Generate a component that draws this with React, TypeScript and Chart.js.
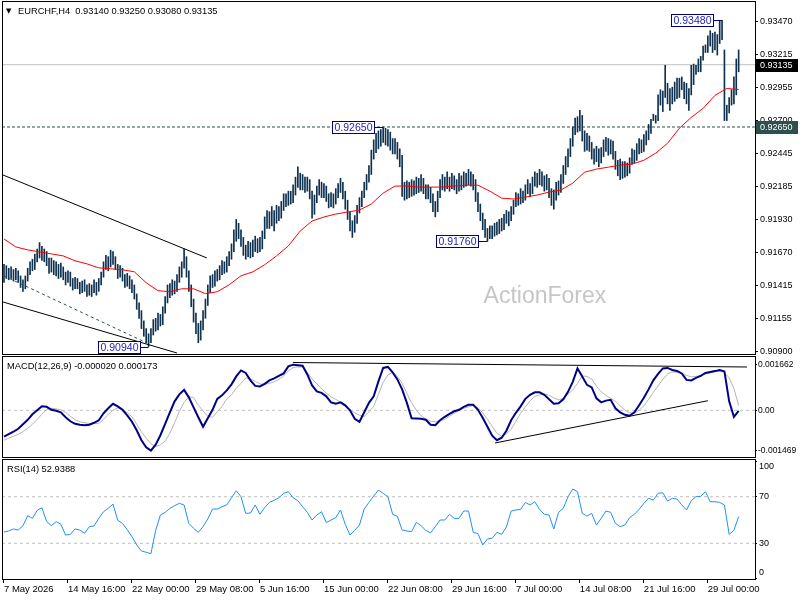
import React, { useEffect, useRef } from "react";
import { Chart, registerables } from "chart.js";

Chart.register(...registerables);

const FONT = '"Liberation Sans", Arial, "DejaVu Sans", sans-serif';
Chart.defaults.font.family = FONT;
Chart.defaults.font.size = 9.5;

// ---------------- data ----------------
const symbolTitle = "EURCHF,H4";
const lastBarOHLC = [0.9314, 0.9325, 0.9308, 0.93135];
const watermark = "ActionForex";

const barHigh = [
  0.9158,0.9157,0.9155,0.9156,0.9154,0.9155,0.9153,0.9149,0.9146,0.9149,
  0.9155,0.9160,0.9162,0.9166,0.9170,0.9175,0.9172,0.9170,0.9168,0.9163,
  0.9163,0.9161,0.9160,0.9158,0.9159,0.9156,0.9152,0.9153,0.9152,0.9147,
  0.9148,0.9147,0.9144,0.9145,0.9146,0.9142,0.9143,0.9142,0.9146,0.9144,
  0.9147,0.9152,0.9160,0.9165,0.9164,0.9169,0.9168,0.9164,0.9158,0.9157,
  0.9155,0.9150,0.9151,0.9149,0.9146,0.9142,0.9135,0.9128,0.9122,0.9114,
  0.9108,0.9104,0.9108,0.9115,0.9116,0.9120,0.9119,0.9125,0.9133,0.9142,
  0.9143,0.9146,0.9145,0.9150,0.9156,0.9160,0.9170,0.9164,0.9153,0.9142,
  0.9131,0.9120,0.9112,0.9114,0.9122,0.9131,0.9142,0.9149,0.9150,0.9153,
  0.9154,0.9157,0.9161,0.9160,0.9164,0.9168,0.9174,0.9185,0.9193,0.9190,
  0.9185,0.9179,0.9173,0.9176,0.9175,0.9177,0.9180,0.9178,0.9179,0.9184,
  0.9195,0.9200,0.9199,0.9203,0.9200,0.9204,0.9203,0.9207,0.9213,0.9213,
  0.9215,0.9215,0.9220,0.9226,0.9234,0.9229,0.9228,0.9226,0.9226,0.9224,
  0.9215,0.9212,0.9219,0.9224,0.9222,0.9221,0.9219,0.9213,0.9214,0.9213,
  0.9217,0.9221,0.9225,0.9222,0.9215,0.9208,0.9199,0.9192,0.9196,0.9204,
  0.9210,0.9215,0.9222,0.9228,0.9235,0.9247,0.9255,0.9260,0.9262,0.9263,
  0.9265,0.9264,0.9263,0.9261,0.9256,0.9256,0.9253,0.9248,0.9243,0.9222,
  0.9223,0.9222,0.9224,0.9223,0.9226,0.9225,0.9228,0.9225,0.9220,0.9220,
  0.9218,0.9213,0.9207,0.9215,0.9224,0.9228,0.9226,0.9230,0.9226,0.9229,
  0.9227,0.9224,0.9229,0.9227,0.9230,0.9229,0.9232,0.9230,0.9228,0.9224,
  0.9214,0.9205,0.9198,0.9193,0.9186,0.9188,0.9188,0.9190,0.9191,0.9193,
  0.9194,0.9197,0.9200,0.9199,0.9203,0.9208,0.9214,0.9213,0.9217,0.9215,
  0.9220,0.9224,0.9221,0.9226,0.9230,0.9229,0.9232,0.9230,0.9227,0.9228,
  0.9225,0.9217,0.9216,0.9222,0.9223,0.9228,0.9235,0.9242,0.9248,0.9256,
  0.9265,0.9272,0.9273,0.9278,0.9274,0.9262,0.9260,0.9258,0.9253,0.9248,
  0.9250,0.9248,0.9249,0.9255,0.9257,0.9256,0.9255,0.9254,0.9246,0.9239,
  0.9240,0.9238,0.9238,0.9237,0.9241,0.9248,0.9247,0.9252,0.9256,0.9255,
  0.9259,0.9262,0.9267,0.9271,0.9275,0.9274,0.9290,0.9294,0.9293,0.9313,
  0.9299,0.9295,0.9296,0.9300,0.9303,0.9303,0.9304,0.9300,0.9299,0.9295,
  0.9313,0.9314,0.9313,0.9318,0.9320,0.9328,0.9329,0.9336,0.9340,0.9338,
  0.9339,0.9337,0.9348,0.9348,0.9325,0.9282,0.9288,0.9294,0.9304,0.9318,
  0.9325,
];

const barLow = [
  0.9144,0.9147,0.9146,0.9147,0.9145,0.9146,0.9144,0.9140,0.9137,0.9139,
  0.9145,0.9150,0.9153,0.9154,0.9160,0.9163,0.9161,0.9160,0.9157,0.9151,
  0.9152,0.9150,0.9149,0.9147,0.9148,0.9146,0.9142,0.9144,0.9141,0.9138,
  0.9139,0.9139,0.9135,0.9136,0.9137,0.9133,0.9134,0.9133,0.9136,0.9134,
  0.9137,0.9142,0.9148,0.9154,0.9153,0.9156,0.9158,0.9154,0.9147,0.9148,
  0.9145,0.9140,0.9141,0.9139,0.9136,0.9131,0.9123,0.9116,0.9108,0.9102,
  0.9097,0.9094,0.9097,0.9103,0.9106,0.9107,0.9110,0.9111,0.9120,0.9128,
  0.9132,0.9134,0.9135,0.9137,0.9144,0.9148,0.9155,0.9148,0.9137,0.9125,
  0.9113,0.9104,0.9097,0.9099,0.9107,0.9116,0.9126,0.9136,0.9140,0.9141,
  0.9145,0.9146,0.9150,0.9151,0.9152,0.9157,0.9162,0.9168,0.9176,0.9178,
  0.9172,0.9165,0.9162,0.9164,0.9163,0.9164,0.9168,0.9167,0.9168,0.9170,
  0.9178,0.9186,0.9186,0.9188,0.9184,0.9190,0.9192,0.9194,0.9200,0.9203,
  0.9204,0.9205,0.9206,0.9212,0.9218,0.9216,0.9216,0.9214,0.9215,0.9209,
  0.9194,0.9197,0.9206,0.9212,0.9210,0.9210,0.9207,0.9202,0.9203,0.9202,
  0.9205,0.9210,0.9214,0.9209,0.9201,0.9193,0.9184,0.9179,0.9183,0.9190,
  0.9198,0.9203,0.9210,0.9216,0.9222,0.9228,0.9240,0.9245,0.9248,0.9250,
  0.9253,0.9251,0.9250,0.9247,0.9244,0.9244,0.9240,0.9234,0.9211,0.9208,
  0.9209,0.9210,0.9211,0.9212,0.9213,0.9214,0.9215,0.9213,0.9209,0.9209,
  0.9206,0.9199,0.9195,0.9199,0.9210,0.9216,0.9215,0.9217,0.9215,0.9217,
  0.9216,0.9213,0.9215,0.9216,0.9218,0.9219,0.9220,0.9219,0.9216,0.9207,
  0.9199,0.9192,0.9185,0.9179,0.9176,0.9178,0.9178,0.9180,0.9181,0.9182,
  0.9184,0.9185,0.9190,0.9188,0.9192,0.9197,0.9203,0.9204,0.9205,0.9206,
  0.9208,0.9213,0.9211,0.9213,0.9219,0.9218,0.9220,0.9219,0.9215,0.9216,
  0.9210,0.9204,0.9201,0.9208,0.9212,0.9214,0.9221,0.9228,0.9234,0.9242,
  0.9250,0.9259,0.9261,0.9262,0.9254,0.9246,0.9247,0.9246,0.9240,0.9236,
  0.9238,0.9234,0.9237,0.9242,0.9246,0.9243,0.9244,0.9240,0.9232,0.9227,
  0.9224,0.9225,0.9226,0.9227,0.9229,0.9236,0.9237,0.9239,0.9244,0.9245,
  0.9246,0.9251,0.9255,0.9260,0.9270,0.9268,0.9270,0.9282,0.9277,0.9288,
  0.9283,0.9278,0.9283,0.9285,0.9287,0.9288,0.9294,0.9287,0.9283,0.9278,
  0.9290,0.9298,0.9306,0.9308,0.9308,0.9317,0.9323,0.9323,0.9328,0.9323,
  0.9325,0.9321,0.9330,0.9333,0.9270,0.9270,0.9276,0.9282,0.9283,0.9290,
  0.9308,
];

// moving average, one value every maStep bars
const maStep = 5;
const maValues = [
  0.91778,0.91716,0.91693,0.91677,0.91662,0.91646,0.91608,0.91584,0.91553,0.91546,
  0.91538,0.91522,0.91437,0.91375,0.91367,0.91390,0.91390,0.91352,0.91367,0.91421,
  0.91491,0.91522,0.91577,0.91646,0.91724,0.91840,0.91918,0.91949,0.91972,0.91988,
  0.92003,0.92050,0.92135,0.92190,0.92190,0.92182,0.92182,0.92182,0.92190,0.92197,
  0.92197,0.92151,0.92096,0.92089,0.92104,0.92120,0.92143,0.92159,0.92213,0.92298,
  0.92322,0.92337,0.92353,0.92361,0.92391,0.92446,0.92523,0.92640,0.92725,0.92795,
  0.92896,0.92950,0.92942,
];

// indicators, one value every indStep bars
const indStep = 2;
const macdMain = [
  -0.000962,-0.000871,-0.000780,-0.000672,-0.000508,-0.000345,-0.000145,0.000000,0.000145,0.000127,
  0.000018,-0.000018,-0.000073,-0.000254,-0.000399,-0.000490,-0.000526,-0.000545,-0.000526,-0.000454,
  -0.000363,-0.000109,0.000073,0.000236,0.000145,0.000018,-0.000182,-0.000417,-0.000726,-0.001089,
  -0.001343,-0.001469,-0.001252,-0.000908,-0.000490,-0.000073,0.000327,0.000581,0.000744,0.000472,
  0.000109,-0.000254,-0.000599,-0.000290,0.000018,0.000417,0.000545,0.000726,0.000944,0.001234,
  0.001452,0.001361,0.001089,0.000889,0.000871,0.000962,0.001089,0.001162,0.001252,0.001343,
  0.001597,0.001662,0.001640,0.001620,0.001307,0.000908,0.000690,0.000635,0.000508,0.000290,
  0.000236,0.000290,0.000182,0.000000,-0.000309,-0.000417,-0.000073,0.000272,0.000508,0.001053,
  0.001543,0.001579,0.001379,0.001125,0.000762,0.000272,-0.000290,-0.000301,-0.000309,-0.000345,
  -0.000526,-0.000545,-0.000363,-0.000236,-0.000127,-0.000036,0.000018,0.000127,0.000200,0.000200,
  0.000018,-0.000272,-0.000599,-0.000926,-0.001089,-0.000998,-0.000744,-0.000363,-0.000091,0.000145,
  0.000417,0.000563,0.000653,0.000653,0.000563,0.000399,0.000243,0.000254,0.000399,0.000672,
  0.001035,0.001525,0.001234,0.000926,0.000835,0.000436,0.000290,0.000352,0.000381,0.000073,
  -0.000073,-0.000163,-0.000200,-0.000073,0.000182,0.000454,0.000762,0.001089,0.001325,0.001525,
  0.001543,0.001470,0.001434,0.001343,0.001107,0.001089,0.001180,0.001252,0.001361,0.001398,
  0.001427,0.001470,0.001416,0.000327,-0.000236,-0.000020,
];
const macdSignal = [
  -0.001089,-0.001016,-0.000944,-0.000871,-0.000780,-0.000653,-0.000508,-0.000327,-0.000145,0.000036,
  0.000073,0.000054,0.000018,-0.000073,-0.000218,-0.000345,-0.000417,-0.000454,-0.000479,-0.000483,
  -0.000483,-0.000327,-0.000145,0.000000,0.000091,0.000036,-0.000091,-0.000236,-0.000508,-0.000780,
  -0.001016,-0.001216,-0.001325,-0.001252,-0.001125,-0.000835,-0.000454,-0.000036,0.000290,0.000490,
  0.000472,0.000182,-0.000018,-0.000218,-0.000254,-0.000054,0.000145,0.000417,0.000563,0.000799,
  0.000980,0.001180,0.001143,0.001053,0.000962,0.000944,0.000980,0.001035,0.001125,0.001252,
  0.001434,0.001561,0.001579,0.001572,0.001379,0.001143,0.000962,0.000799,0.000617,0.000490,
  0.000399,0.000290,0.000145,0.000018,-0.000091,-0.000182,-0.000229,-0.000054,0.000145,0.000581,
  0.001016,0.001289,0.001379,0.001234,0.000980,0.000617,0.000272,0.000000,-0.000200,-0.000309,
  -0.000399,-0.000417,-0.000381,-0.000327,-0.000218,-0.000109,-0.000018,0.000073,0.000127,0.000182,
  0.000091,-0.000091,-0.000327,-0.000581,-0.000835,-0.000944,-0.000853,-0.000690,-0.000399,-0.000109,
  0.000127,0.000345,0.000508,0.000563,0.000599,0.000545,0.000454,0.000381,0.000436,0.000581,
  0.000744,0.000980,0.001252,0.001234,0.001143,0.000871,0.000672,0.000545,0.000436,0.000327,
  0.000163,0.000000,-0.000091,-0.000109,0.000000,0.000163,0.000399,0.000653,0.000889,0.001125,
  0.001325,0.001398,0.001379,0.001343,0.001270,0.001216,0.001234,0.001270,0.001325,0.001361,
  0.001398,0.001423,0.001379,0.001180,0.000799,0.000173,
];
const rsiValues = [
  39.7,40.6,42.3,41.4,45.1,53.7,51.4,58.3,60.6,48.6,
  45.1,48.6,46.3,37.1,37.7,42.3,41.4,38.6,44.3,44.9,
  51.4,57.1,60.0,63.7,49.7,47.1,41.7,35.7,28.6,23.4,
  22.3,21.1,41.1,54.3,56.6,60.0,62.3,64.3,62.9,47.1,
  42.9,39.4,44.3,50.9,59.4,59.4,61.4,62.9,69.1,75.1,
  70.0,55.7,56.0,62.9,54.9,60.6,65.1,66.9,69.1,72.9,
  74.3,69.1,66.6,61.4,56.6,50.0,54.3,57.1,47.7,50.0,
  52.0,58.6,46.3,37.1,41.1,45.7,59.4,65.1,70.6,75.7,
  72.9,70.0,54.9,53.1,41.4,40.6,40.0,48.0,45.1,41.1,
  38.9,44.3,50.0,50.0,54.9,51.4,51.4,57.7,57.7,39.4,
  38.3,28.6,33.7,34.3,39.4,37.7,44.0,57.7,58.6,59.1,
  65.1,62.9,65.7,59.1,54.9,54.3,42.3,56.6,60.0,70.0,
  76.6,74.3,55.7,53.4,55.7,45.7,51.4,57.7,56.6,47.1,
  44.3,45.7,52.0,54.9,59.1,64.3,68.6,67.1,72.9,73.4,
  66.3,68.6,68.0,62.9,58.6,66.6,70.0,70.3,74.3,65.7,
  65.7,65.1,62.9,37.7,41.1,52.9388,
];

const priceTicks = [0.9347, 0.93215, 0.92955, 0.927, 0.92445, 0.92185, 0.9193, 0.9167, 0.91415, 0.91155, 0.909];
const macdTicks = [0.001662, 0, -0.001469];
const rsiTicks = [100, 70, 30, 0];
const rsiLevels = [70, 30];
const xTickBars = [0, 27, 54, 81, 108, 135, 162, 189, 216, 243, 270, 297];
const xTickLabels = [
  "7 May 2026", "14 May 16:00", "22 May 00:00", "29 May 08:00", "5 Jun 16:00", "15 Jun 00:00",
  "22 Jun 08:00", "29 Jun 16:00", "7 Jul 00:00", "14 Jul 08:00", "21 Jul 16:00", "29 Jul 00:00",
];

const xRange = [-0.84, 316.9];
const priceRange = [0.908821, 0.936312];
const macdRange = [-0.0017, 0.001977];
const rsiRange = [-0.64, 102.36];

const levelPrice = 0.9265;
const priceLabels = [
  { bar: 61, price: 0.9094 },
  { bar: 160, price: 0.9265 },
  { bar: 204, price: 0.9176 },
  { bar: 303, price: 0.9348 },
];
const priceTrendlines = [
  { from: [-0.4, 0.92276], to: [85.6, 0.9163], dashed: false },
  { from: [-0.4, 0.91287], to: [73, 0.9089], dashed: false },
  { from: [0, 0.9149], to: [60.3, 0.90968], dashed: true },
];
const macdTrendlines = [
  { from: [121.9, 0.00174], to: [313.5, 0.001576] },
  { from: [207.2, -0.00119], to: [297, 0.000349] },
];

// ---------------- helpers ----------------
const BAR_COLOR = "#0e3150";
const fontStr = (size: number) => `${size}px ${FONT}`;

const frame = {
  id: "panelFrame",
  afterDraw(chart: any) {
    const { ctx, chartArea: a } = chart;
    ctx.save();
    ctx.strokeStyle = "#000";
    ctx.lineWidth = 1;
    ctx.strokeRect(a.left + 0.5, a.top + 0.5, a.right - a.left, a.bottom - a.top);
    ctx.restore();
  },
};

function hLine(v: number, color: string, dash: number[], order = 5) {
  return {
    type: "line",
    data: [{ x: xRange[0], y: v }, { x: xRange[1], y: v }],
    borderColor: color,
    borderWidth: 1,
    borderDash: dash,
    pointRadius: 0,
    order,
  };
}

function segLine(t: any, color: string, dash: number[], order = 1) {
  return {
    type: "line",
    data: [{ x: t.from[0], y: t.from[1] }, { x: t.to[0], y: t.to[1] }],
    borderColor: color,
    borderWidth: 1,
    borderDash: dash,
    pointRadius: 0,
    order,
  };
}

function xAxis(display: boolean) {
  return {
    type: "linear",
    min: xRange[0],
    max: xRange[1],
    offset: false,
    display,
    position: "bottom",
    afterBuildTicks: (s: any) => {
      s.ticks = xTickBars.map((v) => ({ value: v }));
    },
    afterFit: (s: any) => {
      if (display) s.height = 21;
      s.paddingLeft = 0;
      s.paddingRight = 0;
    },
    ticks: {
      autoSkip: false,
      maxRotation: 0,
      minRotation: 0,
      align: "start",
      padding: 1,
      color: "#000",
      font: { size: 9.5, family: FONT },
      callback: (_v: any, idx: number) => xTickLabels[idx],
    },
    grid: { drawOnChartArea: false, drawTicks: true, tickLength: 4, color: "#000" },
    border: { display: false },
  };
}

function yAxis(range: number[], ticks: number[], fmt: (v: number) => string, tickLen: number, fontSize: number, pad: number) {
  return {
    type: "linear",
    position: "right",
    min: range[0],
    max: range[1],
    beginAtZero: false,
    afterBuildTicks: (s: any) => {
      s.ticks = ticks.map((v) => ({ value: v }));
    },
    afterFit: (s: any) => {
      s.width = 45;
      s.paddingTop = 0;
      s.paddingBottom = 0;
    },
    ticks: {
      autoSkip: false,
      color: "#000",
      padding: pad,
      font: { size: fontSize, family: FONT },
      callback: (v: any) => fmt(Number(v)),
    },
    grid: { drawOnChartArea: false, drawTicks: true, tickLength: tickLen, color: "#000" },
    border: { display: false },
  };
}

const baseOptions = (padding: any) => ({
  responsive: false,
  animation: false,
  events: [],
  layout: { padding },
  plugins: { legend: { display: false }, tooltip: { enabled: false }, title: { display: false } },
});

// ---------------- main panel ----------------
const mainDecor = {
  id: "mainDecor",
  beforeDatasetsDraw(chart: any) {
    const { ctx, chartArea: a } = chart;
    ctx.save();
    ctx.font = fontStr(23);
    ctx.fillStyle = "#c6c6c6";
    ctx.textAlign = "center";
    ctx.textBaseline = "middle";
    ctx.fillText(watermark, a.left + (a.right - a.left) * 0.721, a.top + (a.bottom - a.top) * 0.838);
    ctx.restore();
  },
  afterDraw(chart: any) {
    const { ctx, chartArea: a, scales } = chart;
    const xs = scales.x;
    const ys = scales.y;
    ctx.save();
    // header
    ctx.fillStyle = "#000";
    ctx.textBaseline = "middle";
    ctx.textAlign = "left";
    ctx.font = `7px "DejaVu Sans", sans-serif`;
    ctx.fillText("\u25BC", a.left + 4, a.top + 10);
    ctx.font = fontStr(9.3);
    ctx.fillText(
      `${symbolTitle}  ${lastBarOHLC.map((v) => v.toFixed(5)).join(" ")}`,
      a.left + 16,
      a.top + 10
    );
    // annotation labels
    ctx.font = fontStr(10.5);
    for (const lab of priceLabels) {
      const bx = xs.getPixelForValue(lab.bar);
      const by = Math.round(ys.getPixelForValue(lab.price));
      const w = 42;
      const h = 12;
      const right = Math.round(bx - 9);
      ctx.fillStyle = "#fff";
      ctx.fillRect(right - w, by - h / 2, w, h);
      ctx.strokeStyle = "#000080";
      ctx.lineWidth = 1;
      ctx.strokeRect(right - w + 0.5, by - h / 2 + 0.5, w, h);
      ctx.beginPath();
      ctx.moveTo(right + 0.5, by + 0.5);
      ctx.lineTo(bx, by + 0.5);
      ctx.stroke();
      ctx.fillStyle = "#2525b5";
      ctx.textAlign = "center";
      ctx.fillText(lab.price.toFixed(5), right - w / 2 + 0.5, by + 1);
    }
    // right axis boxes
    ctx.font = fontStr(9);
    ctx.textAlign = "left";
    const axisBox = (price: number, bg: string) => {
      const y = Math.round(ys.getPixelForValue(price));
      ctx.fillStyle = bg;
      ctx.fillRect(a.right + 1, y - 6, 42, 13);
      ctx.fillStyle = "#fff";
      ctx.fillText(price.toFixed(5), a.right + 5, y + 0.5);
    };
    axisBox(levelPrice, "#2f4f4f");
    axisBox(lastBarOHLC[3], "#000000");
    ctx.restore();
  },
};

function mainConfig(): any {
  return {
    type: "bar",
    data: {
      datasets: [
        {
          type: "line",
          data: maValues.map((v, k) => ({ x: k * maStep, y: v })),
          borderColor: "#ff0000",
          borderWidth: 1,
          pointRadius: 0,
          order: 0,
        },
        ...priceTrendlines.map((t) => segLine(t, t.dashed ? "#2f4f4f" : "#000", t.dashed ? [3, 3] : [], 1)),
        {
          type: "bar",
          data: barHigh.map((h, i) => ({ x: i, y: [barLow[i], h] })),
          backgroundColor: BAR_COLOR,
          barThickness: 1,
          grouped: false,
          order: 2,
        },
        hLine(lastBarOHLC[3], "#c0c0c0", [], 5),
        hLine(levelPrice, "#2f4f4f", [3, 2], 5),
      ],
    },
    options: {
      ...baseOptions({ left: 2, top: 1, bottom: 2, right: 0 }),
      scales: {
        x: xAxis(false),
        y: yAxis(priceRange, priceTicks, (v) => v.toFixed(5), 3, 9, 2),
      },
    },
    plugins: [mainDecor, frame],
  };
}

// ---------------- MACD panel ----------------
const macdDecor = {
  id: "macdDecor",
  afterDraw(chart: any) {
    const { ctx, chartArea: a } = chart;
    ctx.save();
    ctx.fillStyle = "#000";
    ctx.font = fontStr(9.3);
    ctx.textBaseline = "middle";
    ctx.textAlign = "left";
    ctx.fillText(
      `MACD(12,26,9) ${macdMain[macdMain.length - 1].toFixed(6)} ${macdSignal[macdSignal.length - 1].toFixed(6)}`,
      a.left + 5,
      a.top + 10
    );
    ctx.restore();
  },
};

function macdConfig(): any {
  return {
    type: "line",
    data: {
      datasets: [
        {
          data: macdMain.map((v, k) => ({ x: k * indStep, y: v })),
          borderColor: "#000088",
          borderWidth: 2,
          pointRadius: 0,
          order: 0,
        },
        {
          data: macdSignal.map((v, k) => ({ x: k * indStep, y: v })),
          borderColor: "#b4b4b4",
          borderWidth: 1,
          pointRadius: 0,
          order: 1,
        },
        ...macdTrendlines.map((t) => segLine(t, "#000", [], 0)),
        hLine(0, "#c0c0c0", [3, 3], 5),
      ],
    },
    options: {
      ...baseOptions({ left: 2, top: 1, bottom: 2, right: 0 }),
      scales: {
        x: xAxis(false),
        y: yAxis(macdRange, macdTicks, (v) => (v === 0 ? "0.00" : v.toFixed(6)), 2, 8.5, 1),
      },
    },
    plugins: [macdDecor, frame],
  };
}

// ---------------- RSI panel ----------------
const rsiDecor = {
  id: "rsiDecor",
  afterDraw(chart: any) {
    const { ctx, chartArea: a, scales } = chart;
    const ys = scales.y;
    ctx.save();
    ctx.fillStyle = "#000";
    ctx.font = fontStr(9.3);
    ctx.textBaseline = "middle";
    ctx.textAlign = "left";
    ctx.fillText(`RSI(14) ${rsiValues[rsiValues.length - 1].toFixed(4)}`, a.left + 5, a.top + 10);
    // edge labels kept inside the panel, as the platform does
    ctx.font = fontStr(9);
    const top = rsiTicks[0];
    const bottom = rsiTicks[rsiTicks.length - 1];
    ctx.fillText(String(top), a.right + 4, ys.getPixelForValue(top) + 5);
    ctx.fillText(String(bottom), a.right + 4, ys.getPixelForValue(bottom) - 5.5);
    ctx.restore();
  },
};

function rsiConfig(): any {
  return {
    type: "line",
    data: {
      datasets: [
        {
          data: rsiValues.map((v, k) => ({ x: k * indStep, y: v })),
          borderColor: "#1e90ff",
          borderWidth: 1,
          pointRadius: 0,
          order: 0,
        },
        ...rsiLevels.map((lv) => hLine(lv, "#c0c0c0", [3, 3], 5)),
      ],
    },
    options: {
      ...baseOptions({ left: 2, top: 1, bottom: 0, right: 0 }),
      scales: {
        x: xAxis(true),
        y: yAxis(rsiRange, rsiTicks, (v) => (v === rsiTicks[0] || v === rsiTicks[rsiTicks.length - 1] ? "" : String(v)), 2, 9, 2),
      },
    },
    plugins: [rsiDecor, frame],
  };
}

export default function App() {
  const mainRef = useRef<HTMLCanvasElement>(null);
  const macdRef = useRef<HTMLCanvasElement>(null);
  const rsiRef = useRef<HTMLCanvasElement>(null);

  useEffect(() => {
    const charts = [
      new Chart(mainRef.current as HTMLCanvasElement, mainConfig()),
      new Chart(macdRef.current as HTMLCanvasElement, macdConfig()),
      new Chart(rsiRef.current as HTMLCanvasElement, rsiConfig()),
    ];
    return () => charts.forEach((c) => c.destroy());
  }, []);

  return (
    <div style={{ position: "fixed", left: 0, top: 0, width: 800, height: 600, background: "#fff", overflow: "hidden" }}>
      <canvas ref={mainRef} width={800} height={356} style={{ position: "absolute", left: 0, top: 0 }} />
      <canvas ref={macdRef} width={800} height={104} style={{ position: "absolute", left: 0, top: 355 }} />
      <canvas ref={rsiRef} width={800} height={142} style={{ position: "absolute", left: 0, top: 458 }} />
    </div>
  );
}
